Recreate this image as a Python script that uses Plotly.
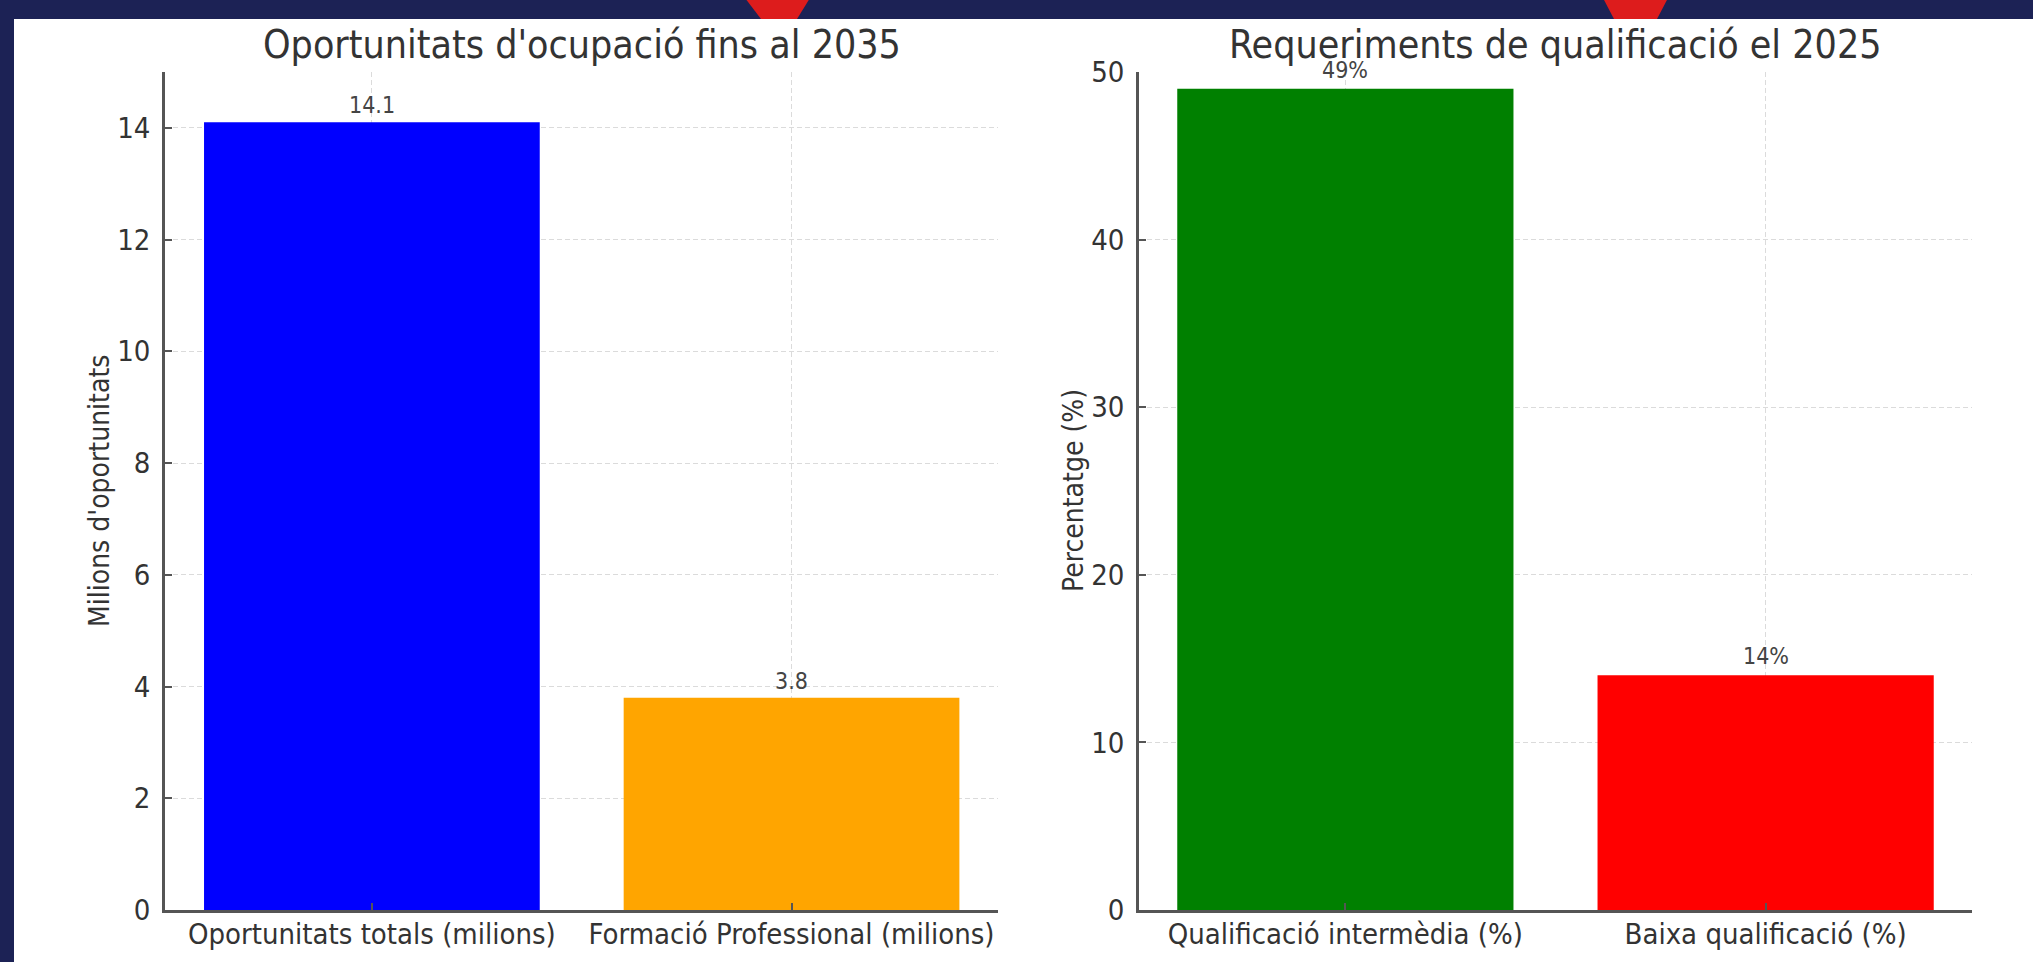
import plotly.graph_objects as go

# ---- data ----
left_categories = ["Oportunitats totals (milions)", "Formació Professional (milions)"]
left_values = [14.1, 3.8]
left_labels = ["14.1", "3.8"]
left_colors = ["#0000ff", "#ffa500"]

right_categories = ["Qualificació intermèdia (%)", "Baixa qualificació (%)"]
right_values = [49, 14]
right_labels = ["49%", "14%"]
right_colors = ["#008000", "#ff0000"]

left_title = "Oportunitats d'ocupació fins al 2035"
right_title = "Requeriments de qualificació el 2025"
left_ylabel = "Milions d'oportunitats"
right_ylabel = "Percentatge (%)"

W, H = 2033, 962
FONT = "DejaVu Sans Condensed, DejaVu Sans"
NAVY = "#1c2255"
TXT = "#333333"


def px(x):
    return x / W


def py(y):
    return 1 - y / H


fig = go.Figure()
fig.add_trace(go.Bar(x=[0, 1], y=left_values, marker_color=left_colors,
                     marker_line_width=0, xaxis="x", yaxis="y", width=0.8,
                     hoverinfo="skip"))
fig.add_trace(go.Bar(x=[0, 1], y=right_values, marker_color=right_colors,
                     marker_line_width=0, xaxis="x2", yaxis="y2", width=0.8,
                     hoverinfo="skip"))

ydom = [py(910), py(72)]
common_axis = dict(
    showline=True, linecolor="#555555", linewidth=2.5,
    ticks="inside", ticklen=7, tickwidth=2, tickcolor="#555555",
    showgrid=True, gridcolor="rgba(195,195,195,0.6)", gridwidth=1.3,
    griddash="5px,3px", zeroline=False, layer="above traces",
    tickfont=dict(family=FONT, size=29, color=TXT),
    fixedrange=True, automargin=False,
)

fig.update_layout(
    width=W, height=H,
    margin=dict(l=0, r=0, t=0, b=0, pad=0, autoexpand=False),
    paper_bgcolor=NAVY, plot_bgcolor="rgba(0,0,0,0)",
    showlegend=False,
    xaxis=dict(domain=[px(165), px(998)], range=[-0.493, 1.492],
               tickmode="array", tickvals=[0, 1], ticktext=left_categories,
               anchor="y", ticklabelstandoff=-4, **common_axis),
    yaxis=dict(domain=ydom, range=[0, 15], tickmode="linear", tick0=0, dtick=2,
               anchor="x", ticklabelstandoff=6, **common_axis),
    xaxis2=dict(domain=[px(1139), px(1972)], range=[-0.491, 1.491],
                tickmode="array", tickvals=[0, 1], ticktext=right_categories,
                anchor="y2", ticklabelstandoff=-4, **common_axis),
    yaxis2=dict(domain=ydom, range=[0, 50], tickmode="linear", tick0=0, dtick=10,
                anchor="x2", ticklabelstandoff=6, **common_axis),
)

# white panel + red markers on navy frame
fig.add_shape(type="rect", xref="paper", yref="paper",
              x0=px(14), x1=px(W + 5), y0=py(H + 5), y1=py(19),
              fillcolor="white", line_width=0, layer="below")
for (a, b, c, d) in [(745, 810, 797, 761), (1603, 1668, 1657, 1614)]:
    path = (f"M {px(a)},{py(-2)} L {px(b)},{py(-2)} "
            f"L {px(c)},{py(19)} L {px(d)},{py(19)} Z")
    fig.add_shape(type="path", xref="paper", yref="paper", path=path,
                  fillcolor="#dd1c1c", line_width=0, layer="below")

# titles
fig.add_annotation(x=px(581.5), y=py(44), xref="paper", yref="paper",
                   text=left_title, showarrow=False, xanchor="center",
                   yanchor="middle",
                   font=dict(family=FONT, size=39, color=TXT))
fig.add_annotation(x=px(1555.5), y=py(44), xref="paper", yref="paper",
                   text=right_title, showarrow=False, xanchor="center",
                   yanchor="middle",
                   font=dict(family=FONT, size=39, color=TXT))

# y-axis labels
fig.add_annotation(x=px(100), y=py(491), xref="paper", yref="paper",
                   text=left_ylabel, showarrow=False, textangle=-90,
                   xanchor="center", yanchor="middle",
                   font=dict(family=FONT, size=28, color=TXT))
fig.add_annotation(x=px(1074), y=py(491), xref="paper", yref="paper",
                   text=right_ylabel, showarrow=False, textangle=-90,
                   xanchor="center", yanchor="middle",
                   font=dict(family=FONT, size=28, color=TXT))

# value labels
for i, (v, t) in enumerate(zip(left_values, left_labels)):
    fig.add_annotation(x=i, y=v, xref="x", yref="y", text=t, showarrow=False,
                       xanchor="center", yanchor="middle", yshift=17,
                       font=dict(family=FONT, size=23, color="#444444"))
for i, (v, t) in enumerate(zip(right_values, right_labels)):
    fig.add_annotation(x=i, y=v, xref="x2", yref="y2", text=t, showarrow=False,
                       xanchor="center", yanchor="middle", yshift=19,
                       font=dict(family=FONT, size=23, color="#444444"))

fig.write_html(
    "out.html",
    config={"displayModeBar": False},
    post_script="document.body.style.margin='0';"
                "document.body.style.padding='0';"
                "document.body.style.overflow='hidden';"
                "document.documentElement.style.overflow='hidden';",
)
